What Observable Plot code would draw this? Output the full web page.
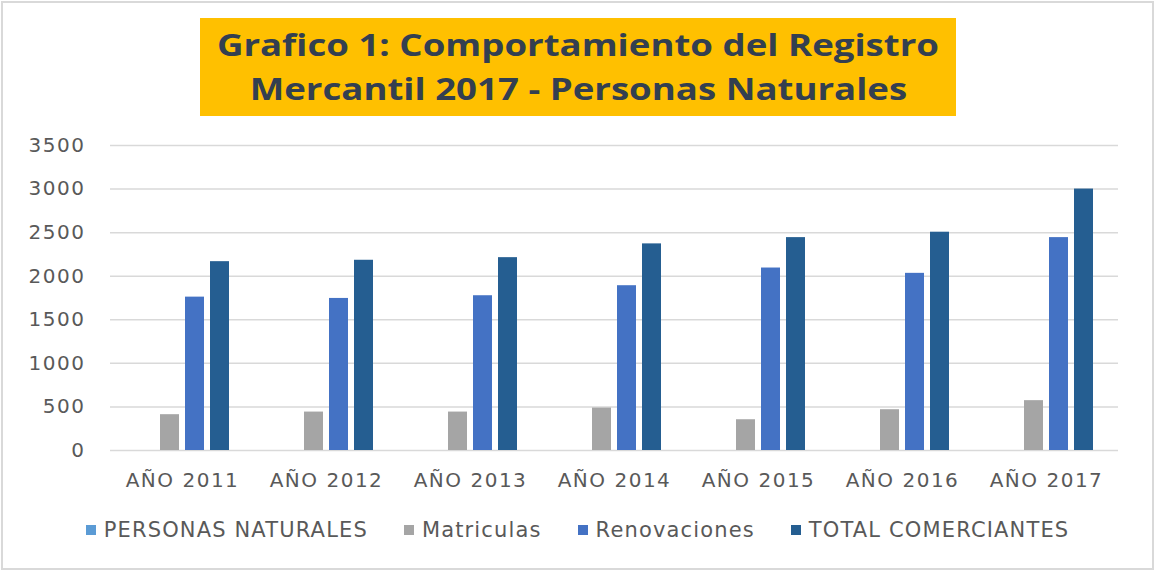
<!DOCTYPE html>
<html>
<head>
<meta charset="utf-8">
<script src="https://cdn.jsdelivr.net/npm/d3@7"></script>
<script src="https://cdn.jsdelivr.net/npm/@observablehq/plot@0.6"></script>
<style>
  html, body { margin: 0; padding: 0; background: #fff; }
  #frame { position: absolute; left: 1px; top: 1px; width: 1149px; height: 565px; border: 2px solid #d9d9d9; background: #fff; }
  #title { position: absolute; left: 200px; top: 18px; width: 756px; height: 98px; background: #FFC000;
           color: #333F50; font-family: "Open Sans", sans-serif; font-weight: 700; font-size: 30px;
           line-height: 44px; text-align: center; display: flex; flex-direction: column; justify-content: center; align-items: center; }
  #title div { transform: scaleX(1.22); white-space: nowrap; }
  #chart { position: absolute; left: 0; top: 120px; }
  #chart svg text { letter-spacing: 1.5px; }
  #legend { position: absolute; left: 0; width: 1155px; top: 518px; display: flex; justify-content: center; gap: 36px;
            font-family: "DejaVu Sans", sans-serif; font-size: 21px; color: #595959; letter-spacing: 1.15px; }
  #legend .item { display: flex; align-items: center; gap: 8px; }
  #legend .sw { width: 10px; height: 10px; display: inline-block; }
</style>
</head>
<body>
<div id="frame"></div>
<div id="title"><div>Grafico 1: Comportamiento del Registro</div><div>Mercantil 2017 - Personas Naturales</div></div>
<div id="chart"></div>
<div id="legend"></div>
<script>
const years = ["AÑO 2011", "AÑO 2012", "AÑO 2013", "AÑO 2014", "AÑO 2015", "AÑO 2016", "AÑO 2017"];
const seriesNames = ["PERSONAS NATURALES", "Matriculas", "Renovaciones", "TOTAL COMERCIANTES"];
const personasNaturales = [0, 0, 0, 0, 0, 0, 0];
const matriculas = [411, 441, 441, 487, 353, 468, 572];
const renovaciones = [1760, 1745, 1776, 1891, 2094, 2033, 2443];
const totalComerciantes = [2167, 2183, 2213, 2371, 2443, 2505, 3000];
const seriesColors = ["#5B9BD5", "#A5A5A5", "#4472C4", "#255E91"];
const yTicks = [0, 500, 1000, 1500, 2000, 2500, 3000, 3500];

const seriesValues = [personasNaturales, matriculas, renovaciones, totalComerciantes];
const data = [];
years.forEach((yr, i) => {
  seriesNames.forEach((s, j) => data.push({year: yr, series: s, value: seriesValues[j][i]}));
});

const chart = Plot.plot({
  width: 1155,
  height: 380,
  marginTop: 25,
  marginBottom: 50,
  marginLeft: 107,
  marginRight: 35,
  style: {fontFamily: "DejaVu Sans, sans-serif", fontSize: "20px", color: "#595959", background: "transparent"},
  fx: {domain: years, padding: 0, label: null, axis: "bottom", tickSize: 0, tickPadding: 22, fontSize: "21px"},
  x: {domain: seriesNames, paddingInner: 0.23, paddingOuter: 0.9, axis: null},
  y: {domain: [0, 3500], ticks: yTicks, tickFormat: d => String(d), tickSize: 0, tickPadding: 25, label: null},
  color: {domain: seriesNames, range: seriesColors},
  marks: [
    Plot.ruleY(yTicks, {stroke: "#d9d9d9", strokeWidth: 1.5}),
    Plot.barY(data, {fx: "year", x: "series", y: "value", fill: "series"})
  ]
});
document.getElementById("chart").appendChild(chart);

const legend = document.getElementById("legend");
seriesNames.forEach((s, j) => {
  const it = document.createElement("div");
  it.className = "item";
  const sw = document.createElement("span");
  sw.className = "sw";
  sw.style.background = seriesColors[j];
  const tx = document.createElement("span");
  tx.textContent = s;
  it.appendChild(sw); it.appendChild(tx);
  legend.appendChild(it);
});
</script>
</body>
</html>
